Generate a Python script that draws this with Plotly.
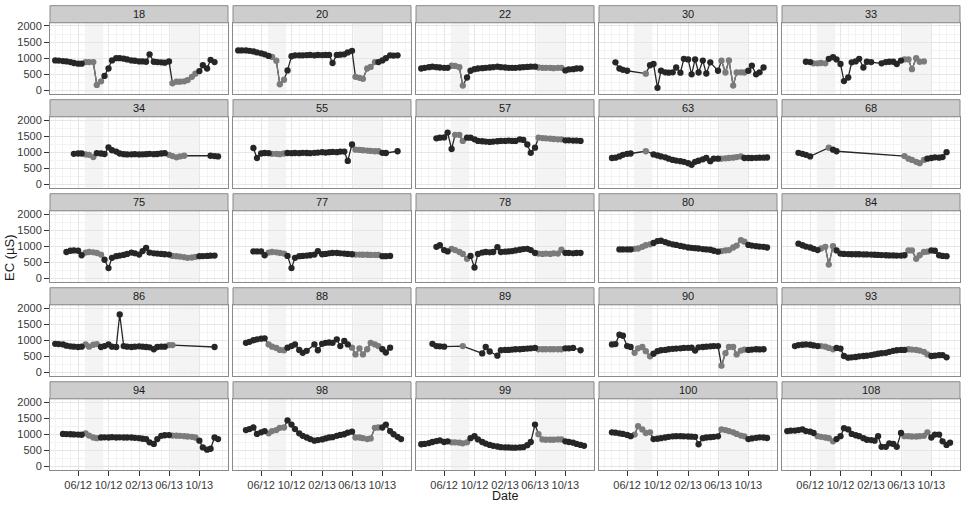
import plotly.graph_objects as go

N = None

# Sampling dates (1st and 15th of each month, Mar 2012 - Dec 2013)
DATES = [
    "2012-03-01", "2012-03-15", "2012-04-01", "2012-04-15", "2012-05-01", "2012-05-15",
    "2012-06-01", "2012-06-15", "2012-07-01", "2012-07-15", "2012-08-01", "2012-08-15",
    "2012-09-01", "2012-09-15", "2012-10-01", "2012-10-15", "2012-11-01", "2012-11-15",
    "2012-12-01", "2012-12-15", "2013-01-01", "2013-01-15", "2013-02-01", "2013-02-15",
    "2013-03-01", "2013-03-15", "2013-04-01", "2013-04-15", "2013-05-01", "2013-05-15",
    "2013-06-01", "2013-06-15", "2013-07-01", "2013-07-15", "2013-08-01", "2013-08-15",
    "2013-09-01", "2013-09-15", "2013-10-01", "2013-10-15", "2013-11-01", "2013-11-15",
    "2013-12-01", "2013-12-15",
]

STATIONS = ["18", "20", "22", "30", "33", "34", "55", "57", "63", "68",
            "75", "77", "78", "80", "84", "86", "88", "89", "90", "93",
            "94", "98", "99", "100", "108"]

EC_18 = [930, 925, 910, 900, 880, 850, 830, 830, 880, 880, 880, 170, 280, 450, 680, 930, 1000, 1000, 985, 960, 930, 920, 900, 900, 890, 1120, 890, 880, 870, 860, 900, 220, 270, 270, 280, 320, 420, 520, 600, 780, 680, 950, 880, N]
EC_20 = [1240, 1240, 1240, 1230, 1210, 1180, 1150, 1120, 1070, 1040, 920, 190, 330, 620, 1060, 1090, 1090, 1090, 1095, 1100, 1090, 1100, 1095, 1100, 1100, 850, 1100, 1110, 1120, 1180, 1230, 420, 390, 360, 680, 730, 880, 880, 930, 1000, 1090, 1080, 1090, N]
EC_22 = [680, 700, 720, 735, 720, 710, 700, 700, 765, 760, 720, 150, 400, 610, 660, 680, 690, 700, 710, 720, 735, 720, 710, 700, 700, 700, 710, 720, 730, 735, 735, 710, 700, 700, 700, 690, 700, 700, 620, 650, 660, 680, 680, N]
EC_30 = [N, N, N, 870, 680, 640, 610, N, N, N, N, 520, 780, 820, 80, 610, 560, 550, 560, 710, 550, 980, 960, 500, 960, 555, 925, 525, 870, N, 610, 920, 555, 930, 150, 555, 560, 555, 610, 770, 500, 560, 710, N]
EC_33 = [N, N, N, N, N, 890, 880, 840, 840, 850, 840, 980, 1030, 960, 820, 290, 400, 870, 900, 980, 710, 890, 880, N, N, 840, 880, 890, 890, 820, 925, 960, 960, 660, 1000, 890, 900, N, N, N, N, N, N, N]
EC_34 = [N, N, N, N, N, 950, 960, 960, 930, 920, 850, 970, 960, 945, 1150, 1060, 1020, 960, 940, 930, 935, 940, 930, 935, 940, 950, 940, 945, 960, 970, 920, 880, 840, 870, 890, N, N, N, N, N, N, 890, 880, 870]
EC_55 = [N, N, N, N, 1130, 820, 960, 975, 970, 950, 950, 940, 960, 975, 970, 975, 970, 980, 975, 970, 980, 990, 1000, 990, 1000, 1010, 1000, 1020, 1020, 730, 1240, 1080, 1070, 1060, 1050, 1040, 1030, 1030, 980, 975, N, N, 1030, N]
EC_57 = [N, N, N, N, 1430, 1450, 1460, 1610, 1100, 1540, 1540, 1350, 1450, 1450, 1400, 1350, 1340, 1330, 1320, 1330, 1340, 1350, 1350, 1360, 1350, 1350, 1400, 1380, 1240, 980, 1140, 1450, 1440, 1430, 1420, 1410, 1400, 1400, 1370, 1370, 1360, 1360, 1350, N]
EC_63 = [N, N, 820, 830, 870, 920, 950, 960, N, N, N, 1030, N, 930, 900, 870, 840, 800, 760, 740, 720, 700, 660, 610, 700, 735, 780, 820, 720, 800, 800, 800, 810, 820, 830, 850, 870, 820, 820, 820, 825, 830, 830, 835]
EC_68 = [N, N, N, 980, 950, 920, 870, N, N, N, N, 1140, 1080, 1030, N, N, N, N, N, N, N, N, N, N, N, N, N, N, N, N, N, 880, 800, 760, 700, 660, 760, 800, 820, 840, 830, 850, 1000, N]
EC_75 = [N, N, N, 820, 860, 870, 860, 720, 800, 820, 810, 790, 740, 580, 320, 640, 690, 710, 730, 760, 800, 780, 740, 850, 950, 800, 780, 770, 760, 750, 740, 700, 690, 680, 660, 640, 650, 670, 690, 695, 700, 705, 710, N]
EC_77 = [N, N, N, N, 840, 840, 840, 720, 800, 820, 810, 790, 770, 700, 320, 640, 690, 700, 710, 720, 740, 850, 750, 760, 780, 790, 790, 780, 770, 760, 750, 740, 740, 735, 735, 730, 730, 730, 690, 690, 700, N, N, N]
EC_78 = [N, N, N, N, 980, 1030, 880, 840, 920, 880, 820, 760, 610, 700, 340, 760, 800, 820, 810, 820, 970, 820, 830, 840, 850, 870, 890, 910, 920, 880, 790, 770, 760, 770, 760, 780, 770, 890, 790, 790, 780, 790, 790, N]
EC_80 = [N, N, N, N, 900, 900, 900, 900, 920, 930, 980, 1030, 1060, 1100, 1160, 1170, 1130, 1090, 1060, 1040, 1010, 990, 960, 950, 940, 930, 910, 900, 890, 860, 830, 850, 870, 880, 960, 1020, 1190, 1140, 1040, 1020, 1000, 990, 980, 960]
EC_84 = [N, N, N, 1080, 1030, 990, 960, 920, 880, 930, 980, 430, 1000, 870, 770, 760, 755, 750, 750, 750, 745, 745, 740, 735, 730, 725, 720, 715, 715, 710, 710, 720, 870, 870, 610, 720, 820, 830, 870, 860, 720, 700, 690, N]
EC_86 = [890, 880, 870, 830, 810, 800, 790, 800, 870, 800, 860, 880, 790, 820, 870, 800, 790, 1800, 820, 800, 790, 800, 810, 800, 790, 780, 720, 790, 800, 800, 850, 850, N, N, N, N, N, N, N, N, N, N, 790, N]
EC_88 = [N, N, 920, 950, 1000, 1030, 1050, 1060, 870, 800, 760, 700, 690, 770, 820, 870, 700, 610, 670, N, 870, 690, 890, 920, 930, 920, 1030, 820, 980, 870, 770, 560, 750, 560, 720, 920, 870, 820, 720, 620, 770, N, N, N]
EC_89 = [N, N, N, 890, 820, 810, 800, N, N, N, N, 820, N, N, N, N, 590, 790, 650, N, 520, 690, 700, 700, 710, 720, 720, 730, 740, 750, 760, 720, 720, 720, 720, 720, 720, 720, 750, 750, 760, N, 690, N]
EC_90 = [N, N, 870, 880, 1170, 1140, 820, 790, 610, 750, 790, 660, 500, 580, 660, 690, 700, 720, 735, 740, 750, 760, 765, 770, 680, 780, 790, 800, 810, 820, 820, 210, 600, 790, 790, 560, 680, 710, 700, 710, 720, 715, 720, N]
EC_93 = [N, N, 820, 850, 860, 870, 860, 840, 820, 820, 800, 760, 720, 760, 740, 510, 460, 470, 480, 500, 510, 520, 540, 560, 580, 600, 610, 640, 670, 690, 700, 700, 720, 710, 700, 680, 640, 560, 510, 520, 535, 540, 470, N]
EC_94 = [N, N, 1010, 1005, 1000, 995, 990, 985, 1030, 960, 900, 880, 900, 905, 900, 910, 900, 905, 900, 900, 900, 890, 880, 860, 850, 750, 700, 850, 950, 970, 975, 960, 955, 950, 940, 930, 920, 900, 800, 590, 520, 550, 900, 850]
EC_98 = [N, N, 1130, 1160, 1210, 1010, 1060, 1100, 1030, 1100, 1130, 1200, 1210, 1430, 1300, 1160, 1030, 950, 900, 850, 800, 820, 840, 870, 900, 910, 950, 980, 1000, 1050, 1080, 900, 900, 880, 850, 870, 1200, 1210, 1210, 1300, 1100, 1000, 920, 850]
EC_99 = [690, 700, 725, 760, 790, 810, 760, 780, 750, 750, 740, 720, 750, 880, 940, 840, 760, 710, 670, 640, 620, 600, 590, 590, 585, 585, 590, 600, 660, 760, 1300, 1000, 840, 830, 830, 830, 840, 840, 780, 760, 740, 700, 670, 640]
EC_100 = [N, N, 1060, 1050, 1030, 1010, 980, 940, 990, 1250, 1150, 1040, 1060, 850, 860, 880, 900, 920, 937, 940, 940, 935, 930, 925, 920, 690, 880, 900, 910, 920, 937, 1150, 1130, 1100, 1060, 1010, 960, 937, 850, 870, 890, 905, 900, 884]
EC_108 = [1100, 1110, 1115, 1130, 1150, 1100, 1080, 1040, 940, 920, 900, 880, 780, 850, 940, 1190, 1150, 1010, 970, 940, 880, 830, 820, 800, 940, 610, 610, 720, 700, 610, 1040, 940, 940, 930, 930, 940, 950, 1060, 900, 990, 990, 780, 670, 740]

# Index runs (inclusive) of the samples drawn in grey (seasonal period)
GREY_18 = [(8, 12), (31, 37)]
GREY_20 = [(9, 12), (31, 36)]
GREY_22 = [(8, 11), (31, 37)]
GREY_30 = [(11, 11), (31, 37)]
GREY_33 = [(7, 10), (31, 36)]
GREY_34 = [(8, 10), (30, 34)]
GREY_55 = [(9, 12), (31, 37)]
GREY_57 = [(9, 11), (31, 37)]
GREY_63 = [(11, 11), (31, 36)]
GREY_68 = [(11, 11), (31, 36)]
GREY_75 = [(8, 12), (31, 37)]
GREY_77 = [(8, 12), (31, 37)]
GREY_78 = [(8, 12), (31, 37)]
GREY_80 = [(8, 12), (31, 37)]
GREY_84 = [(9, 12), (32, 37)]
GREY_86 = [(8, 11), (30, 31)]
GREY_88 = [(8, 12), (30, 37)]
GREY_89 = [(11, 11), (31, 37)]
GREY_90 = [(8, 12), (31, 37)]
GREY_93 = [(9, 12), (32, 37)]
GREY_94 = [(8, 11), (31, 37)]
GREY_98 = [(8, 12), (31, 37)]
GREY_99 = [(8, 12), (31, 37)]
GREY_100 = [(8, 12), (31, 37)]
GREY_108 = [(8, 12), (31, 37)]

SERIES = [EC_18, EC_20, EC_22, EC_30, EC_33, EC_34, EC_55, EC_57, EC_63, EC_68,
          EC_75, EC_77, EC_78, EC_80, EC_84, EC_86, EC_88, EC_89, EC_90, EC_93,
          EC_94, EC_98, EC_99, EC_100, EC_108]
GREYS = [GREY_18, GREY_20, GREY_22, GREY_30, GREY_33, GREY_34, GREY_55, GREY_57, GREY_63, GREY_68,
         GREY_75, GREY_77, GREY_78, GREY_80, GREY_84, GREY_86, GREY_88, GREY_89, GREY_90, GREY_93,
         GREY_94, GREY_98, GREY_99, GREY_100, GREY_108]

SEASON_BANDS = [("2012-07-01", "2012-09-10"), ("2013-06-07", "2013-10-01")]
TICK_DATES = ["2012-06-01", "2012-10-01", "2013-02-01", "2013-06-01", "2013-10-01"]
TICK_LABELS = ["06/12", "10/12", "02/13", "06/13", "10/13"]
MINOR_DATES = ["2012-02-01", "2012-03-01", "2012-04-01", "2012-05-01", "2012-07-01", "2012-08-01",
               "2012-09-01", "2012-11-01", "2012-12-01", "2013-01-01", "2013-03-01", "2013-04-01",
               "2013-05-01", "2013-07-01", "2013-08-01", "2013-09-01", "2013-11-01", "2013-12-01",
               "2014-01-01"]
Y_TICKS = [0, 500, 1000, 1500, 2000]
Y_MINOR = [250, 750, 1250, 1750]
X_RANGE = ["2012-02-09", "2014-01-24"]
Y_RANGE = [-100, 2100]

# ---- styling / geometry ----
W, H = 964, 505
DARK = "#262626"
GREY = "#7b7b7b"
FONT = "Liberation Sans, Arial, sans-serif"
COL_LEFT0, COL_PITCH, PANEL_W = 50, 183, 178
ROW_TOP0, ROW_PITCH, STRIP_H, PANEL_H = 2.7, 95.15, 17.3, 71.7

fig = go.Figure()
shapes, annotations = [], []

for k, (name, vals, runs) in enumerate(zip(STATIONS, SERIES, GREYS)):
    r, c = divmod(k, 5)
    sfx = "" if k == 0 else str(k + 1)
    xa, ya = "x" + sfx, "y" + sfx
    grey_idx = set()
    for a, b in runs:
        grey_idx.update(range(a, b + 1))

    xs = [DATES[i] for i, v in enumerate(vals) if v is not None]
    ys = [v for v in vals if v is not None]
    fig.add_trace(go.Scatter(x=xs, y=ys, mode="lines", line=dict(color=DARK, width=1.3),
                             xaxis=xa, yaxis=ya, showlegend=False, hoverinfo="skip"))
    gy = [v if (i in grey_idx) else None for i, v in enumerate(vals)]
    fig.add_trace(go.Scatter(x=DATES, y=gy, mode="lines+markers", connectgaps=False,
                             line=dict(color=GREY, width=1.3),
                             marker=dict(color=GREY, size=6.3),
                             xaxis=xa, yaxis=ya, showlegend=False, hoverinfo="skip"))
    dy = [v if (i not in grey_idx) else None for i, v in enumerate(vals)]
    fig.add_trace(go.Scatter(x=DATES, y=dy, mode="markers",
                             marker=dict(color=DARK, size=6.3),
                             xaxis=xa, yaxis=ya, showlegend=False, hoverinfo="skip"))

    left = COL_LEFT0 + c * COL_PITCH
    right = left + PANEL_W
    strip_top = ROW_TOP0 + r * ROW_PITCH
    plot_top = strip_top + STRIP_H
    plot_bot = plot_top + PANEL_H

    fig.layout["xaxis" + sfx] = dict(
        domain=[left / W, right / W], anchor=ya, type="date", range=X_RANGE,
        tickmode="array", tickvals=TICK_DATES, ticktext=TICK_LABELS,
        showticklabels=(r == 4), ticks="outside" if r == 4 else "",
        ticklen=5, tickcolor="#333333", ticklabelstandoff=0,
        tickfont=dict(size=11, color="#383838", family=FONT),
        showgrid=True, gridcolor="#e6e6e6", gridwidth=1,
        minor=dict(tickvals=MINOR_DATES, showgrid=True, gridcolor="#f3f3f3", ticks=""),
        showline=True, mirror=True, linecolor="#8a8a8a", linewidth=1, zeroline=False,
    )
    fig.layout["yaxis" + sfx] = dict(
        domain=[1 - plot_bot / H, 1 - plot_top / H], anchor=xa, range=Y_RANGE,
        tickmode="array", tickvals=Y_TICKS,
        showticklabels=(c == 0), ticks="outside" if c == 0 else "",
        ticklen=5, tickcolor="#333333",
        tickfont=dict(size=11, color="#383838", family=FONT),
        showgrid=True, gridcolor="#e6e6e6", gridwidth=1,
        minor=dict(tickvals=Y_MINOR, showgrid=True, gridcolor="#f3f3f3", ticks=""),
        showline=True, mirror=True, linecolor="#8a8a8a", linewidth=1, zeroline=False,
    )

    for x0, x1 in SEASON_BANDS:
        shapes.append(dict(type="rect", xref=xa, yref=ya + " domain", x0=x0, x1=x1, y0=0, y1=1,
                           fillcolor="#f4f4f4", line=dict(width=0), layer="below"))
    shapes.append(dict(type="rect", xref="paper", yref="paper",
                       x0=left / W, x1=right / W, y0=1 - plot_top / H, y1=1 - strip_top / H,
                       fillcolor="#cdcdcd", line=dict(color="#8a8a8a", width=1)))
    annotations.append(dict(text=name, xref="paper", yref="paper",
                            x=(left + right) / 2 / W, y=1 - (strip_top + STRIP_H / 2) / H,
                            showarrow=False, xanchor="center", yanchor="middle",
                            font=dict(size=11, color="#1a1a1a", family=FONT)))

annotations.append(dict(text="EC (\u00b5S)", xref="paper", yref="paper", x=10 / W, y=1 - 258 / H,
                        textangle=-90, showarrow=False, xanchor="center", yanchor="middle",
                        font=dict(size=13, color="#1a1a1a", family=FONT)))
annotations.append(dict(text="Date", xref="paper", yref="paper", x=505 / W, y=1 - 499 / H,
                        showarrow=False, xanchor="center", yanchor="middle",
                        font=dict(size=12.5, color="#1a1a1a", family=FONT)))

fig.update_layout(width=W, height=H, autosize=False, margin=dict(l=0, r=0, t=0, b=0),
                  paper_bgcolor="white", plot_bgcolor="white",
                  shapes=shapes, annotations=annotations, hovermode=False,
                  font=dict(family=FONT))

fig.write_html("out.html", config={"displayModeBar": False},
               post_script="document.body.style.margin='0';document.body.style.overflow='hidden';")
